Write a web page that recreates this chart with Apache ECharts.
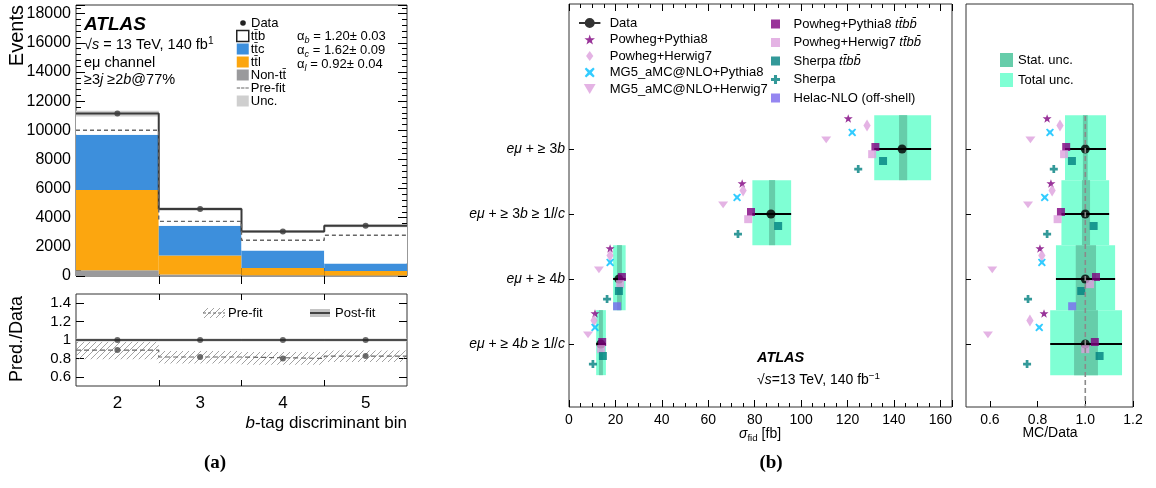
<!DOCTYPE html>
<html lang="en">
<head>
<meta charset="UTF-8">
<script src="https://cdn.jsdelivr.net/npm/echarts@6/dist/echarts.min.js"></script>
<style>
  body {margin:0; background:#fff;}
  #chart {width:1156px; height:488px;}
</style>
<title>ttbb</title>
</head>
<body>
<div id="chart"></div>
<script>
// ---------- (a) b-tag discriminant bins ----------
const bins = [2, 3, 4, 5];
const nonTT = [400, 100, 50, 30];
const ttLight = [5500, 1300, 500, 320];
const ttCharm = [3800, 2050, 1200, 500];
const ttB = [1450, 1150, 1300, 2600];
const dataEvents = [11150, 4600, 3050, 3450];
const preFitEvents = [10000, 3750, 2450, 2800];
const uncLo = [10950, 4480, 2950, 3340];
const uncHi = [11350, 4720, 3150, 3560];
const dataRatio = [1, 1, 1, 1];
const postLo = [0.985, 0.985, 0.985, 0.985];
const postHi = [1.015, 1.015, 1.015, 1.015];
const preRatio = [0.89, 0.815, 0.80, 0.825];
const preLo = [0.79, 0.745, 0.73, 0.76];
const preHi = [0.98, 0.88, 0.87, 0.885];
const ratioTicksA = [0.6, 0.8, 1, 1.2, 1.4];

// ---------- (b) fiducial cross-sections, bottom region first ----------
const regions = ['eμ + ≥ 4b ≥ 1l/c', 'eμ + ≥ 4b', 'eμ + ≥ 3b ≥ 1l/c', 'eμ + ≥ 3b'];
const xsData = [13.7, 21.5, 87.0, 143.5];
const xsTotLo = [11.7, 19.0, 79.0, 131.5];
const xsTotHi = [15.9, 24.4, 95.7, 156.0];
const xsStatLo = [12.9, 20.7, 86.2, 142.2];
const xsStatHi = [14.6, 22.8, 88.8, 145.7];
const rTotLo = [0.853, 0.877, 0.90, 0.915];
const rTotHi = [1.154, 1.125, 1.10, 1.087];
const rStatLo = [0.953, 0.96, 0.986, 0.99];
const rStatHi = [1.053, 1.045, 1.02, 1.01];
const xsPP8 = [11.2, 17.7, 74.6, 120.3];
const xsPH7 = [10.8, 17.7, 75.0, 128.4];
const xsMGP8 = [11.2, 17.7, 72.4, 122.0];
const xsMGH7 = [8.2, 12.9, 66.4, 110.8];
const xsPP8bb = [14.3, 22.8, 78.4, 132.0];
const xsPH7bb = [13.8, 22.0, 77.2, 130.6];
const xsSHbb = [14.6, 21.5, 90.1, 135.3];
const xsSH = [10.3, 16.4, 72.8, 124.6];
const xsHelac = [null, 20.7, null, null];
const rPP8 = [0.827, 0.81, 0.856, 0.84];
const rPH7 = [0.768, 0.818, 0.861, 0.894];
const rMGP8 = [0.807, 0.818, 0.83, 0.852];
const rMGH7 = [0.592, 0.61, 0.76, 0.77];
const rPP8bb = [1.04, 1.045, 0.898, 0.92];
const rPH7bb = [1.0, 1.02, 0.884, 0.911];
const rSHbb = [1.06, 0.983, 1.035, 0.944];
const rSH = [0.756, 0.76, 0.84, 0.868];
const rHelac = [null, 0.945, null, null];
const ratioTicksB = [0.6, 0.8, 1.0, 1.2];

const FONT = 'Liberation Sans';
const TT = 't\u0304';   // t-bar

window.onload = function () {
    const chart = echarts.init(document.getElementById('chart'));

    // hatch pattern for pre-fit band
    const hatch = document.createElement('canvas');
    hatch.width = 6; hatch.height = 6;
    const hc = hatch.getContext('2d');
    hc.strokeStyle = '#8a8a8a'; hc.lineWidth = 0.8;
    hc.beginPath();
    hc.moveTo(0, 6); hc.lineTo(6, 0);
    hc.moveTo(-1, 1); hc.lineTo(1, -1);
    hc.moveTo(5, 7); hc.lineTo(7, 5);
    hc.stroke();
    const hatchFill = {image: hatch, repeat: 'repeat'};

    // rect from [x0, x1, y0, y1]
    function boxRender(fill) {
        return function (params, api) {
            const p0 = api.coord([api.value(0), api.value(2)]);
            const p1 = api.coord([api.value(1), api.value(3)]);
            return {
                type: 'rect',
                shape: {x: Math.min(p0[0], p1[0]), y: Math.min(p0[1], p1[1]),
                        width: Math.abs(p1[0] - p0[0]), height: Math.abs(p1[1] - p0[1])},
                style: fill ? {fill: fill} : api.style()
            };
        };
    }
    function hbarRender(params, api) {
        const p0 = api.coord([api.value(0), api.value(2)]);
        const p1 = api.coord([api.value(1), api.value(2)]);
        return {type: 'line', shape: {x1: p0[0], y1: p0[1], x2: p1[0], y2: p1[1]},
                style: {stroke: '#000', lineWidth: 2}};
    }

    // ----- (a) series -----
    const series = [];
    const parts = [
        {name: 'Non-' + 't' + TT, vals: nonTT, color: '#9a9a9c'},
        {name: 't' + TT + 'l', vals: ttLight, color: '#fca60f'},
        {name: 't' + TT + 'c', vals: ttCharm, color: '#3d8fdc'},
        {name: 't' + TT + 'b', vals: ttB, color: '#ffffff'}
    ];
    let base = bins.map(() => 0);
    parts.forEach(p => {
        const b0 = base.slice();
        base = base.map((v, i) => v + p.vals[i]);
        series.push({
            type: 'custom', name: p.name, xAxisIndex: 0, yAxisIndex: 0, clip: true,
            itemStyle: {color: p.color},
            renderItem: boxRender(),
            data: bins.map((b, i) => [b - 0.5, b + 0.5, b0[i], base[i]])
        });
    });
    const total = base;
    const edges = bins.map(b => b - 0.5).concat([bins[bins.length - 1] + 0.5]);
    const stepData = arr => edges.map((e, i) => [e, arr[Math.min(i, arr.length - 1)]]);

    series.push({
        type: 'custom', name: 'Unc.', xAxisIndex: 0, yAxisIndex: 0, clip: true,
        itemStyle: {color: '#cfcfcf'},
        renderItem: boxRender(),
        data: bins.map((b, i) => [b - 0.5, b + 0.5, uncLo[i], uncHi[i]])
    });
    series.push({
        type: 'line', name: 'total', xAxisIndex: 0, yAxisIndex: 0, step: 'end',
        symbol: 'none', lineStyle: {color: '#3a3a3a', width: 2}, data: stepData(total)
    });
    series.push({
        type: 'line', name: 'Pre-fit', xAxisIndex: 0, yAxisIndex: 0, step: 'end',
        symbol: 'none', itemStyle: {color: '#666'},
        lineStyle: {color: '#666', width: 1.4, type: [4, 3]}, data: stepData(preFitEvents)
    });
    series.push({
        type: 'scatter', name: 'Data ', xAxisIndex: 0, yAxisIndex: 0, symbolSize: 6,
        itemStyle: {color: '#3a3a3a'}, data: bins.map((b, i) => [b, dataEvents[i]])
    });

    // ratio panel (a)
    series.push({
        type: 'custom', name: 'preband', xAxisIndex: 2, yAxisIndex: 2, clip: true,
        renderItem: boxRender(hatchFill),
        data: bins.map((b, i) => [b - 0.5, b + 0.5, preLo[i], preHi[i]])
    });
    series.push({
        type: 'custom', name: 'postband', xAxisIndex: 2, yAxisIndex: 2, clip: true,
        renderItem: boxRender('#cdcdcd'),
        data: bins.map((b, i) => [b - 0.5, b + 0.5, postLo[i], postHi[i]])
    });
    series.push({
        type: 'line', name: 'preline', xAxisIndex: 2, yAxisIndex: 2, step: 'end',
        symbol: 'none', lineStyle: {color: '#666', width: 1.2, type: [5, 3]}, data: stepData(preRatio)
    });
    series.push({
        type: 'line', name: 'postline', xAxisIndex: 2, yAxisIndex: 2, step: 'end',
        symbol: 'none', lineStyle: {color: '#222', width: 1.6}, data: stepData(dataRatio)
    });
    series.push({
        type: 'scatter', name: 'rdots', xAxisIndex: 2, yAxisIndex: 2, symbolSize: 6,
        itemStyle: {color: '#4a4a4a'},
        data: bins.map((b, i) => [b, dataRatio[i]]).concat(bins.map((b, i) => [b, preRatio[i]]))
    });

    // ----- (b) series -----
    const pos = regions.map((r, i) => i + 1);
    const STAR = 'path://M5,0 L6.2,3.6 L10,3.6 L7,5.9 L8.1,9.5 L5,7.3 L1.9,9.5 L3,5.9 L0,3.6 L3.8,3.6 Z';
    const XMARK = 'path://M1.5,0 L5,3 L8.5,0 L10,1.5 L7,5 L10,8.5 L8.5,10 L5,7 L1.5,10 L0,8.5 L3,5 L0,1.5 Z';
    const PLUS = 'path://M3.3,0 H6.7 V3.3 H10 V6.7 H6.7 V10 H3.3 V6.7 H0 V3.3 H3.3 Z';
    const TRI = 'path://M0,0 L10,0 L5,8.5 Z';
    const SQUARE = 'path://M0,0 H10 V10 H0 Z';
    const DIAMOND = 'path://M4,0 L8,5.5 L4,11 L0,5.5 Z';
    const DATAICON = 'path://M0,4.3 H15 V5.7 H0 Z M11,5 A3.5,3.5 0 1 1 4,5 A3.5,3.5 0 1 1 11,5 Z';
    const DASHICON = 'path://M0,4.4 H3.5 V5.6 H0 Z M4.5,4.4 H8 V5.6 H4.5 Z M9,4.4 H12.5 V5.6 H9 Z';
    const ttbb = 't' + TT + 'bb\u0304';
    const models = [
        {name: 'Powheg+Pythia8', xs: xsPP8, r: rPP8, color: '#800080', symbol: STAR, size: 9, off: -0.47},
        {name: 'Powheg+Herwig7', xs: xsPH7, r: rPH7, color: '#dda0dd', symbol: DIAMOND, size: [10, 12], off: -0.36},
        {name: 'MG5_aMC@NLO+Pythia8', xs: xsMGP8, r: rMGP8, color: '#00bfff', symbol: XMARK, size: 8, off: -0.255},
        {name: 'MG5_aMC@NLO+Herwig7', xs: xsMGH7, r: rMGH7, color: '#dda0dd', symbol: TRI, size: [10, 8], off: -0.14},
        {name: 'Powheg+Pythia8 ' + ttbb, xs: xsPP8bb, r: rPP8bb, color: '#800080', symbol: SQUARE, size: 8, off: -0.03},
        {name: 'Powheg+Herwig7 ' + ttbb, xs: xsPH7bb, r: rPH7bb, color: '#dda0dd', symbol: SQUARE, size: 8, off: 0.08},
        {name: 'Sherpa ' + ttbb, xs: xsSHbb, r: rSHbb, color: '#008080', symbol: SQUARE, size: 8, off: 0.185},
        {name: 'Sherpa', xs: xsSH, r: rSH, color: '#008080', symbol: PLUS, size: 8, off: 0.31},
        {name: 'Helac-NLO (off-shell)', xs: xsHelac, r: rHelac, color: '#7b68ee', symbol: SQUARE, size: 8, off: 0.42}
    ];

    [[4, 4, xsTotLo, xsTotHi, xsStatLo, xsStatHi, xsData], [6, 5, rTotLo, rTotHi, rStatLo, rStatHi, dataRatio]]
        .forEach(([xi, yi, tLo, tHi, sLo, sHi, dv]) => {
        series.push({
            type: 'custom', name: 'Total unc.', xAxisIndex: xi, yAxisIndex: yi, clip: true,
            itemStyle: {color: '#7fffd4'}, renderItem: boxRender(),
            data: pos.map((p, i) => [tLo[i], tHi[i], p - 0.48, p + 0.52])
        });
        series.push({
            type: 'custom', name: 'Stat. unc.', xAxisIndex: xi, yAxisIndex: yi, clip: true,
            itemStyle: {color: '#66cdaa'}, renderItem: boxRender(),
            data: pos.map((p, i) => [sLo[i], sHi[i], p - 0.48, p + 0.52])
        });
        if (xi === 6) {
            series.push({
                type: 'line', name: 'refline', xAxisIndex: xi, yAxisIndex: yi, symbol: 'none',
                lineStyle: {color: '#8a8a8a', width: 1.6, type: [5, 3]},
                data: [[dv[0], 0], [dv[0], pos[pos.length - 1] + 0.52]]
            });
        }
        series.push({
            type: 'custom', name: 'errbar', xAxisIndex: xi, yAxisIndex: yi, clip: true,
            renderItem: hbarRender,
            data: pos.map((p, i) => [tLo[i], tHi[i], p])
        });
        series.push({
            type: 'scatter', name: 'Data', xAxisIndex: xi, yAxisIndex: yi, symbolSize: 9,
            itemStyle: {color: '#000'}, data: pos.map((p, i) => [dv[i], p])
        });
        models.forEach(m => {
            const vals = xi === 4 ? m.xs : m.r;
            series.push({
                type: 'scatter', name: m.name, xAxisIndex: xi, yAxisIndex: yi,
                symbol: m.symbol, symbolSize: m.size, symbolKeepAspect: true,
                itemStyle: {color: m.color},
                data: pos.map((p, i) => vals[i] == null ? null : [vals[i], p - m.off]).filter(d => d)
            });
        });
    });

    // ----- axes -----
    const tick = (len, extra) => Object.assign({inside: true, length: len, lineStyle: {color: '#000'}}, extra || {});
    const noLine = {show: false};
    const noSplit = {show: false};
    const xAxes = [
        {gridIndex: 0, type: 'value', min: 1.5, max: 5.5, axisLine: noLine, splitLine: noSplit,
         axisLabel: {show: false}, axisTick: tick(8, {customValues: [2.5, 3.5, 4.5]})},
        {gridIndex: 0, type: 'value', position: 'top', min: 1.5, max: 5.5, axisLine: noLine, splitLine: noSplit,
         axisLabel: {show: false}, axisTick: tick(8, {customValues: [2.5, 3.5, 4.5]})},
        {gridIndex: 1, type: 'value', min: 1.5, max: 5.5, axisLine: noLine, splitLine: noSplit,
         axisLabel: {customValues: bins, fontSize: 17, color: '#000', margin: 9},
         axisTick: tick(6, {customValues: [2.5, 3.5, 4.5]})},
        {gridIndex: 1, type: 'value', position: 'top', min: 1.5, max: 5.5, axisLine: noLine, splitLine: noSplit,
         axisLabel: {show: false}, axisTick: tick(6, {customValues: [2.5, 3.5, 4.5]})},
        {gridIndex: 2, type: 'value', min: 0, max: 165, interval: 20, axisLine: noLine, splitLine: noSplit,
         axisLabel: {fontSize: 14, color: '#000', margin: 6, showMaxLabel: false},
         axisTick: tick(7), minorTick: {show: true, splitNumber: 4, length: 4, lineStyle: {color: '#000'}}},
        {gridIndex: 2, type: 'value', position: 'top', min: 0, max: 165, interval: 20, axisLine: noLine,
         splitLine: noSplit, axisLabel: {show: false},
         axisTick: tick(7), minorTick: {show: true, splitNumber: 4, length: 4, lineStyle: {color: '#000'}}},
        {gridIndex: 3, type: 'value', min: 0.5, max: 1.2, axisLine: noLine, splitLine: noSplit,
         axisLabel: {customValues: ratioTicksB, formatter: v => v.toFixed(1), fontSize: 14, color: '#000', margin: 6},
         axisTick: tick(6, {customValues: ratioTicksB})}
    ];
    const italicRich = {i: {fontStyle: 'italic', fontSize: 14, fontFamily: FONT, color: '#000'}};
    const yAxes = [
        {gridIndex: 0, type: 'value', min: 0, max: 18600, interval: 2000, axisLine: noLine, splitLine: noSplit,
         axisLabel: {fontSize: 16, color: '#000', margin: 5, showMaxLabel: false, formatter: v => String(v)},
         axisTick: tick(9), minorTick: {show: true, splitNumber: 5, length: 5, lineStyle: {color: '#000'}}},
        {gridIndex: 0, type: 'value', position: 'right', min: 0, max: 18600, interval: 2000, axisLine: noLine,
         splitLine: noSplit, axisLabel: {show: false},
         axisTick: tick(9), minorTick: {show: true, splitNumber: 5, length: 5, lineStyle: {color: '#000'}}},
        {gridIndex: 1, type: 'value', min: 0.5, max: 1.5, axisLine: noLine, splitLine: noSplit,
         axisLabel: {customValues: ratioTicksA, fontSize: 15, color: '#000', margin: 5},
         axisTick: tick(8, {customValues: ratioTicksA})},
        {gridIndex: 1, type: 'value', position: 'right', min: 0.5, max: 1.5, axisLine: noLine, splitLine: noSplit,
         axisLabel: {show: false}, axisTick: tick(8, {customValues: ratioTicksA})},
        {gridIndex: 2, type: 'value', min: 0.03, max: 6.23, axisLine: noLine, splitLine: noSplit,
         axisLabel: {customValues: pos, fontSize: 14, color: '#000', margin: 4, rich: italicRich,
                     formatter: v => regions[v - 1].replace(/([eμblc])/g, '{i|$1}')
                                     .replace('{i|e}{i|μ}', '{i|eμ}')},
         axisTick: tick(5, {customValues: pos})},
        {gridIndex: 3, type: 'value', min: 0.03, max: 6.23, axisLine: noLine, splitLine: noSplit,
         axisLabel: {show: false}, axisTick: tick(5, {customValues: pos})}
    ];

    const gridStyle = {show: true, borderColor: '#333', borderWidth: 1, backgroundColor: 'transparent'};
    const grids = [
        Object.assign({left: 76, top: 5, width: 331, height: 271}, gridStyle),
        Object.assign({left: 76, top: 294, width: 331, height: 92}, gridStyle),
        Object.assign({left: 569, top: 4, width: 383, height: 403}, gridStyle),
        Object.assign({left: 966, top: 4, width: 167, height: 403}, gridStyle)
    ];

    // ----- legends -----
    const legendText = {fontSize: 13, fontFamily: FONT, color: '#000', lineHeight: 14,
                        rich: {i: {fontStyle: 'italic', fontSize: 13, fontFamily: FONT, lineHeight: 14}}};
    const legends = [
        {left: 236, top: 29, padding: 0, orient: 'vertical', itemWidth: 12, itemHeight: 11, itemGap: -1,
         selectedMode: false,
         textStyle: {fontSize: 13, fontFamily: FONT, color: '#000', lineHeight: 14, padding: [0, 0, 0, -3]},
         data: [{name: 't' + TT + 'b', icon: 'rect', itemStyle: {color: '#fff', borderColor: '#222', borderWidth: 1.5}},
                {name: 't' + TT + 'c', icon: 'rect'}, {name: 't' + TT + 'l', icon: 'rect'},
                {name: 'Non-t' + TT, icon: 'rect'},
                {name: 'Pre-fit', icon: DASHICON, itemStyle: {color: '#666'}}, {name: 'Unc.', icon: 'rect'}]},
        {left: 579, top: 16, padding: 0, orient: 'vertical', itemWidth: 26, itemHeight: 10, itemGap: 2.5,
         selectedMode: false, textStyle: Object.assign({padding: [0, 0, 0, 2]}, legendText),
         data: [{name: 'Data', icon: DATAICON}].concat(models.slice(0, 4).map(m => m.name))},
        {left: 771, top: 17, padding: 0, orient: 'vertical', itemWidth: 26, itemHeight: 9, itemGap: 4.5,
         selectedMode: false, textStyle: legendText,
         formatter: n => n.indexOf(ttbb) >= 0 ? n.replace(ttbb, '{i|' + ttbb + '}') : n,
         data: models.slice(4).map(m => m.name)},
        {left: 1000, top: 53, padding: 0, orient: 'vertical', itemWidth: 13, itemHeight: 14, itemGap: 6,
         selectedMode: false, icon: 'rect',
         textStyle: {fontSize: 13, fontFamily: FONT, color: '#000'},
         data: ['Stat. unc.', 'Total unc.']}
    ];

    // ----- free text -----
    const T = (x, y, text, st, extra) => Object.assign({
        type: 'text', x: x, y: y, silent: true,
        style: Object.assign({text: text, fontFamily: FONT, fill: '#000', align: 'left', verticalAlign: 'middle'}, st)
    }, extra || {});
    const subRich = fs => ({
        n: {fontSize: fs, fontFamily: FONT, lineHeight: fs + 4},
        i: {fontSize: fs, fontFamily: FONT, fontStyle: 'italic', lineHeight: fs + 4},
        s: {fontSize: fs * 0.7, fontFamily: FONT, fontStyle: 'italic', lineHeight: fs * 0.7, verticalAlign: 'bottom'},
        su: {fontSize: fs * 0.7, fontFamily: FONT, lineHeight: fs * 0.7, verticalAlign: 'bottom'},
        p: {fontSize: fs * 0.7, fontFamily: FONT, lineHeight: fs + 4, verticalAlign: 'top'}
    });
    const graphics = [
        T(17, 5, 'Events', {fontSize: 20, align: 'right'}, {rotation: Math.PI / 2}),
        T(17, 339, 'Pred./Data', {fontSize: 18, align: 'center'}, {rotation: Math.PI / 2}),
        T(84, 25, 'ATLAS', {fontSize: 19, fontWeight: 'bold', fontStyle: 'italic'}),
        T(84, 45, '{n|√}{i|s}{n| = 13 TeV, 140 fb}{p|1}', {rich: subRich(14.5)}),
        T(84, 63, 'eμ channel', {fontSize: 14.5}),
        T(84, 80, '{n|≥3}{i|j}{n| ≥2}{i|b}{n|@77%}', {rich: subRich(14.5)}),
        T(297, 36, '{n|α}{s|b}{n| = 1.20± 0.03}', {rich: subRich(13)}),
        T(297, 50, '{n|α}{s|c}{n| = 1.62± 0.09}', {rich: subRich(13)}),
        T(297, 64, '{n|α}{s|l}{n| = 0.92± 0.04}', {rich: subRich(13)}),
        // Data entry of the (a) legend
        {type: 'circle', shape: {cx: 243, cy: 23, r: 2.8}, style: {fill: '#222'}, silent: true},
        T(251, 23, 'Data', {fontSize: 13}),
        T(407, 423, '{i|b}{n|-tag discriminant bin}', {align: 'right', rich: subRich(17)}),
        T(215, 463, '(a)', {fontSize: 19, fontWeight: 'bold', fontFamily: 'Liberation Serif', align: 'center'}),
        T(771, 463, '(b)', {fontSize: 19, fontWeight: 'bold', fontFamily: 'Liberation Serif', align: 'center'}),
        T(757, 358, 'ATLAS', {fontSize: 14.5, fontWeight: 'bold', fontStyle: 'italic'}),
        T(757, 380, '{n|√}{i|s}{n|=13 TeV, 140 fb}{p|−1}', {rich: subRich(14)}),
        T(760, 434, '{i|σ}{su|fid}{n| [fb]}', {align: 'center', rich: subRich(14)}),
        T(1050, 433, 'MC/Data', {fontSize: 14, align: 'center'}),
        // ratio (a) legend
        {type: 'rect', shape: {x: 203, y: 308, width: 22, height: 10}, style: {fill: hatchFill}, silent: true},
        {type: 'line', shape: {x1: 203, y1: 313, x2: 225, y2: 313}, style: {stroke: '#666', lineWidth: 1, lineDash: [3, 2]}, silent: true},
        T(228, 313, 'Pre-fit', {fontSize: 13}),
        {type: 'rect', shape: {x: 310, y: 309, width: 20, height: 8}, style: {fill: '#c4c4c4'}, silent: true},
        {type: 'line', shape: {x1: 310, y1: 313, x2: 330, y2: 313}, style: {stroke: '#222', lineWidth: 1.6}, silent: true},
        T(335, 313, 'Post-fit', {fontSize: 13})
    ];

    chart.setOption({
        animation: false,
        textStyle: {fontFamily: FONT},
        grid: grids,
        xAxis: xAxes,
        yAxis: yAxes,
        legend: legends,
        graphic: graphics,
        series: series
    });
};
</script>
</body>
</html>
